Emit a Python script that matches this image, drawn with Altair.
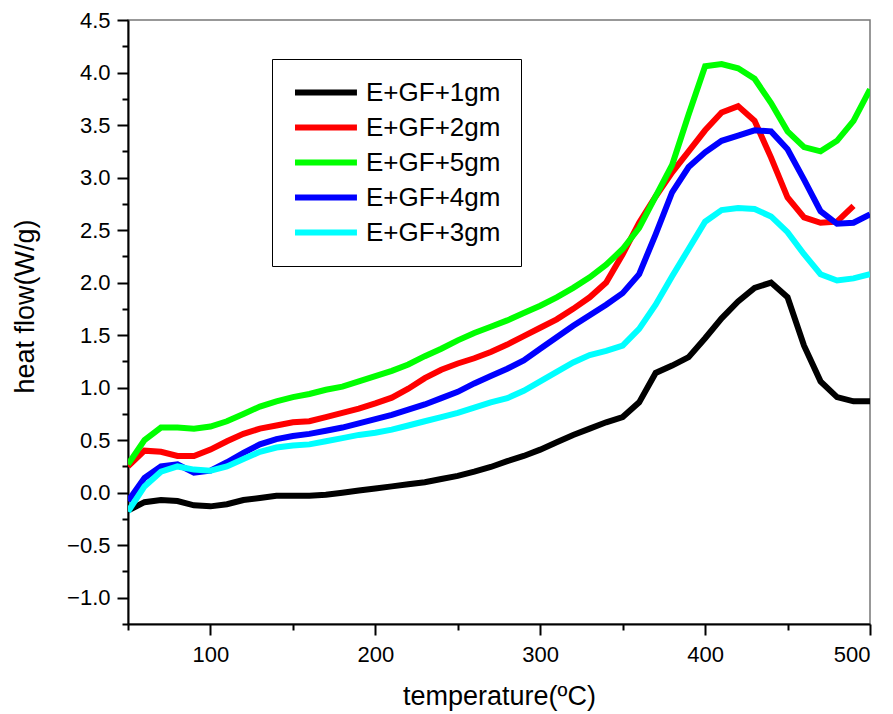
import altair as alt
import pandas as pd

# ---- data ----
temperature = list(range(50, 501, 10))

e_gf_1gm = [-0.17, -0.09, -0.07, -0.08, -0.12, -0.13, -0.11, -0.07, -0.05, -0.03,
            -0.03, -0.03, -0.02, 0.00, 0.02, 0.04, 0.06, 0.08, 0.10, 0.13,
            0.16, 0.20, 0.245, 0.30, 0.35, 0.41, 0.48, 0.55, 0.61, 0.67,
            0.72, 0.86, 1.14, 1.21, 1.29, 1.47, 1.66, 1.82, 1.95, 2.00,
            1.86, 1.40, 1.06, 0.91, 0.87, 0.87]

e_gf_2gm = [0.25, 0.40, 0.39, 0.35, 0.35, 0.41, 0.49, 0.56, 0.61, 0.64,
            0.67, 0.68, 0.72, 0.76, 0.80, 0.85, 0.905, 0.99, 1.09, 1.17,
            1.23, 1.28, 1.34, 1.41, 1.49, 1.57, 1.65, 1.75, 1.86, 2.00,
            2.27, 2.57, 2.82, 3.05, 3.25, 3.45, 3.62, 3.68, 3.54, 3.19,
            2.81, 2.62, 2.57, 2.58, 2.73]

e_gf_5gm = [0.27, 0.50, 0.62, 0.62, 0.61, 0.63, 0.68, 0.75, 0.82, 0.87,
            0.91, 0.94, 0.98, 1.01, 1.06, 1.11, 1.16, 1.22, 1.30, 1.37,
            1.45, 1.52, 1.58, 1.64, 1.71, 1.78, 1.86, 1.95, 2.05, 2.17,
            2.32, 2.52, 2.82, 3.12, 3.60, 4.06, 4.08, 4.04, 3.94, 3.71,
            3.44, 3.29, 3.25, 3.35, 3.54, 3.84]

e_gf_4gm = [-0.08, 0.14, 0.25, 0.27, 0.19, 0.21, 0.29, 0.38, 0.46, 0.51,
            0.54, 0.56, 0.59, 0.62, 0.66, 0.70, 0.74, 0.79, 0.84, 0.90,
            0.96, 1.04, 1.11, 1.18, 1.26, 1.37, 1.48, 1.59, 1.69, 1.79,
            1.90, 2.08, 2.46, 2.86, 3.10, 3.24, 3.35, 3.40, 3.45, 3.44,
            3.27, 2.98, 2.68, 2.56, 2.57, 2.65]

e_gf_3gm = [-0.18, 0.06, 0.20, 0.25, 0.22, 0.21, 0.25, 0.32, 0.39, 0.43,
            0.45, 0.46, 0.49, 0.52, 0.55, 0.57, 0.60, 0.64, 0.68, 0.72,
            0.76, 0.81, 0.86, 0.90, 0.97, 1.06, 1.15, 1.24, 1.31, 1.35,
            1.40, 1.56, 1.79, 2.06, 2.32, 2.58, 2.69, 2.71, 2.70, 2.63,
            2.48, 2.27, 2.08, 2.02, 2.04, 2.08]

series_names = ["E+GF+1gm", "E+GF+2gm", "E+GF+5gm", "E+GF+4gm", "E+GF+3gm"]
series_values = [e_gf_1gm, e_gf_2gm, e_gf_5gm, e_gf_4gm, e_gf_3gm]
series_colors = ["#000000", "#ff0000", "#00ff00", "#0000ff", "#00ffff"]

x_ticks = list(range(50, 501, 50))
y_ticks = [-1.25 + 0.25 * i for i in range(24)]

rows = []
for name, vals in zip(series_names, series_values):
    for t, v in zip(temperature, vals):
        rows.append({"temperature": t, "heat_flow": v, "series": name})
df = pd.DataFrame(rows)

FONT = "Arial, Liberation Sans, sans-serif"

x_axis = alt.Axis(
    title="temperature(ºC)",
    values=x_ticks,
    labelExpr="datum.value % 100 === 0 ? datum.label : ''",
    tickSize={"condition": {"test": "datum.value % 100 !== 0", "value": 6}, "value": 11},
    labelPadding=9,
    titleY=59,
    labelOverlap=False,
    grid=False,
)

y_axis = alt.Axis(
    title="heat flow(W/g)",
    values=y_ticks,
    format=".1f",
    labelExpr="datum.value % 0.5 === 0 ? datum.label : ''",
    tickSize={"condition": {"test": "datum.value % 0.5 !== 0", "value": 6}, "value": 11},
    labelPadding=7,
    titleX=-103,
    titleY=286,
    titleBaseline="middle",
    labelOverlap=False,
    grid=False,
)

chart = alt.Chart(df).mark_line(strokeWidth=6, clip=True).encode(
    x=alt.X("temperature:Q", scale=alt.Scale(domain=[50, 500], nice=False, zero=False), axis=x_axis),
    y=alt.Y("heat_flow:Q", scale=alt.Scale(domain=[-1.25, 4.5], nice=False, zero=False), axis=y_axis),
    color=alt.Color(
        "series:N",
        sort=series_names,
        scale=alt.Scale(domain=series_names, range=series_colors),
        legend=alt.Legend(
            title=None,
            orient="none",
            legendX=144,
            legendY=39,
            strokeColor="#000000",
            padding=20,
            symbolType="M-1,0H4.9",
            symbolStrokeWidth=6,
            symbolSize=441,
            labelFontSize=26,
            labelFont=FONT,
            labelColor="#000000",
            labelOffset=47,
            rowPadding=8,
            labelLimit=300,
        ),
    ),
).properties(
    width=742,
    height=604,
    autosize=alt.AutoSizeParams(type="none"),
    padding={"left": 120, "top": 12, "right": 15, "bottom": 88},
).configure_axis(
    domainColor="#000000",
    domainWidth=2,
    tickColor="#000000",
    tickWidth=2,
    labelFont=FONT,
    labelFontSize=22,
    labelColor="#000000",
    titleFont=FONT,
    titleFontSize=27,
    titleFontWeight="normal",
    titleColor="#000000",
).configure_view(
    stroke="#777777",
    strokeWidth=1.5,
)

chart.save("out.html", embed_options={"renderer": "svg", "actions": False})
